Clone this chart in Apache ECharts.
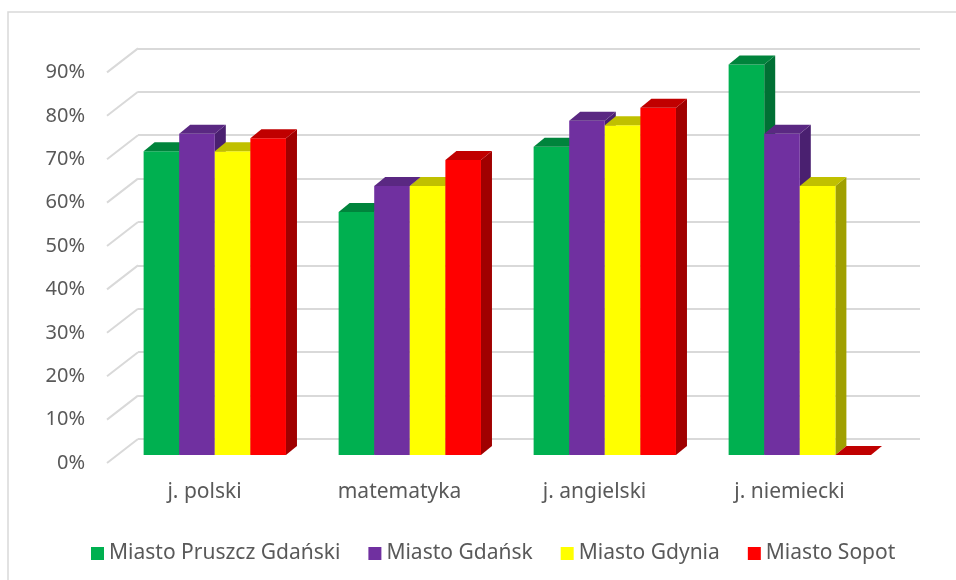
<!DOCTYPE html>
<html>
<head>
<meta charset="utf-8">
<script src="https://cdn.jsdelivr.net/npm/echarts@6/dist/echarts.min.js"></script>
<style>
  html, body { margin: 0; padding: 0; background: #fff; }
  #chart { width: 956px; height: 580px; }
</style>
</head>
<body>
<div id="chart"></div>
<script>
// dane wykresu
const subjects = ['j. polski', 'matematyka', 'j. angielski', 'j. niemiecki']
const cities = ['Miasto Pruszcz Gdański', 'Miasto Gdańsk', 'Miasto Gdynia', 'Miasto Sopot']
const pruszczValues = [70, 56, 71, 90]
const gdanskValues = [74, 62, 77, 74]
const gdyniaValues = [70, 62, 76, 62]
const sopotValues = [73, 68, 80, 0]
const yTicks = [0, 10, 20, 30, 40, 50, 60, 70, 80, 90]

// kolory: przód, góra, bok
const faceColors = [
  ['#00b050', '#00843c', '#007034'],
  ['#7030a0', '#5a2882', '#4a2070'],
  ['#ffff00', '#c0c000', '#a0a000'],
  ['#ff0000', '#c00000', '#a00000']
]
const allValues = [pruszczValues, gdanskValues, gdyniaValues, sopotValues]

const chart = echarts.init(document.getElementById('chart'))

const DX = 11   // głębokość słupka w poziomie
const DY = 9    // głębokość słupka w pionie
const BAR_RATIO = 0.1825

// słupek 3D: przód + góra + bok
function barRenderer (seriesIdx) {
  return function (params, api) {
    const cat = api.value(0)
    const val = api.value(1)
    const top = api.coord([cat, val])
    const base = api.coord([cat, 0])
    const catW = api.size([1, 0])[0]
    const w = catW * BAR_RATIO
    const x0 = top[0] + (seriesIdx - 2) * w
    const x1 = x0 + w
    const yT = top[1]
    const yB = base[1]
    const c = faceColors[seriesIdx]
    const children = []
    if (yB - yT > 0.5) {
      children.push({
        type: 'polygon',
        shape: { points: [[x1, yT], [x1 + DX, yT - DY], [x1 + DX, yB - DY], [x1, yB]] },
        style: { fill: c[2] }
      })
      children.push({
        type: 'rect',
        shape: { x: x0, y: yT, width: w, height: yB - yT },
        style: { fill: c[0] }
      })
    }
    children.push({
      type: 'polygon',
      shape: { points: [[x0, yT], [x0 + DX, yT - DY], [x1 + DX, yT - DY], [x1, yT]] },
      style: { fill: c[1] }
    })
    return { type: 'group', children: children }
  }
}

const barSeries = allValues.map((vals, i) => {
  return {
    name: cities[i],
    type: 'custom',
    xAxisIndex: 2,
    yAxisIndex: 2,
    z: 10 + i,
    itemStyle: { color: faceColors[i][0] },
    renderItem: barRenderer(i),
    encode: { x: 0, y: 1 },
    data: vals.map((v, k) => [k, v])
  }
})

const option = {
  animation: false,
  textStyle: { fontFamily: 'Noto Sans' },
  graphic: [{
    type: 'rect',
    shape: { x: 8, y: 12, width: 1000, height: 700 },
    style: { fill: 'none', stroke: '#d9d9d9', lineWidth: 1.5 },
    silent: true
  }],
  legend: {
    left: 86,
    top: 538,
    itemWidth: 13,
    itemHeight: 13,
    itemGap: 28,
    icon: 'rect',
    textStyle: { fontSize: 21, color: '#595959' },
    data: cities
  },
  grid: [
    // tylna ściana
    { left: 138, width: 782, top: 48.4, height: 390.6 },
    // przednia płaszczyzna (etykiety)
    { left: 107, width: 780, top: 72.4, height: 390.6 },
    // płaszczyzna słupków
    { left: 117.3, width: 780, top: 64.4, height: 390.6 }
  ],
  xAxis: [
    { gridIndex: 0, type: 'category', data: subjects, show: false },
    {
      gridIndex: 1,
      type: 'category',
      data: subjects,
      axisLine: { show: false },
      axisTick: { show: false },
      axisLabel: { fontSize: 21, color: '#595959', margin: 19 }
    },
    { gridIndex: 2, type: 'category', data: subjects, show: false }
  ],
  yAxis: [
    {
      gridIndex: 0,
      type: 'value',
      min: 0,
      max: 90,
      interval: 10,
      axisLabel: { show: false },
      axisLine: { show: false },
      axisTick: { show: false },
      splitLine: { lineStyle: { color: '#d9d9d9', width: 2 } }
    },
    {
      gridIndex: 1,
      type: 'value',
      min: 0,
      max: 90,
      interval: 10,
      axisLine: { show: false },
      axisTick: { show: false },
      splitLine: { show: false },
      axisLabel: { fontSize: 20, color: '#595959', margin: 22, formatter: '{value}%' }
    },
    { gridIndex: 2, type: 'value', min: 0, max: 90, interval: 10, show: false, splitLine: { show: false } }
  ],
  series: [
    {
      // ukośne linie siatki po lewej stronie
      type: 'custom',
      xAxisIndex: 1,
      yAxisIndex: 1,
      z: 1,
      silent: true,
      renderItem (params, api) {
        const p = api.coord([0, api.value(1)])
        const x = params.coordSys.x
        return {
          type: 'line',
          shape: { x1: x, y1: p[1], x2: x + 31, y2: p[1] - 24 },
          style: { stroke: '#d9d9d9', lineWidth: 2 }
        }
      },
      encode: { x: 0, y: 1 },
      data: yTicks.map(v => [0, v])
    },
    ...barSeries
  ]
}

chart.setOption(option)
</script>
</body>
</html>
